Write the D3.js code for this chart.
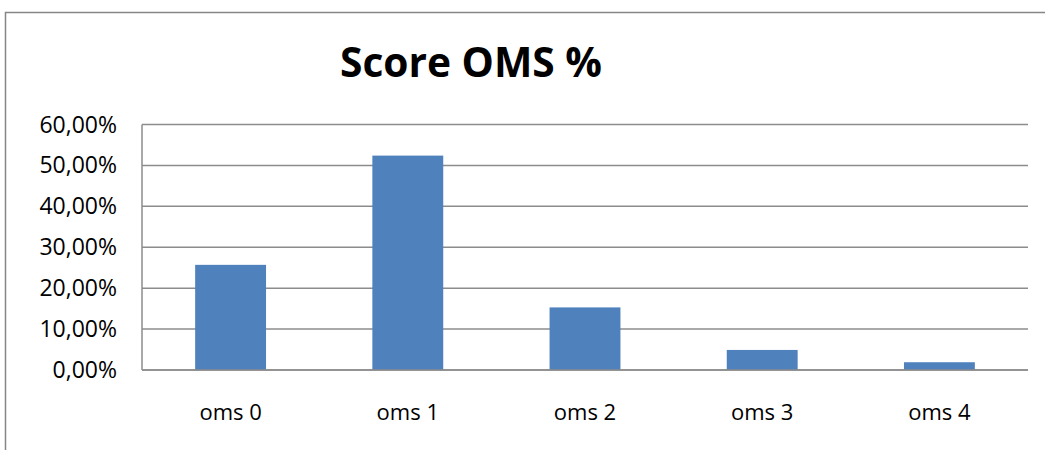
<!DOCTYPE html>
<html>
<head>
<meta charset="utf-8">
<script src="https://cdn.jsdelivr.net/npm/d3@7"></script>
<style>
  body { margin: 0; background: #fff; }
  text { font-family: "Open Sans", sans-serif; fill: #000; }
</style>
</head>
<body>
<div id="chart"></div>
<script>
// chart values
const categories = ["oms 0", "oms 1", "oms 2", "oms 3", "oms 4"];
const values = [0.257, 0.524, 0.153, 0.049, 0.019];
const yTicks = [0, 0.1, 0.2, 0.3, 0.4, 0.5, 0.6];
const title = "Score OMS %";

const width = 1045, height = 450;
const margin = {top: 124.5, right: 17, bottom: 80, left: 142};

let svg = d3.select("#chart").append("svg")
    .attr("width", width)
    .attr("height", height);

// outer frame of the chart area
svg.append("rect")
    .attr("x", 5.5).attr("y", 12.5)
    .attr("width", width + 20).attr("height", height + 20)
    .attr("fill", "none")
    .attr("stroke", "#868686")
    .attr("stroke-width", 1.5);

svg.append("text")
    .attr("x", 471).attr("y", 77)
    .attr("text-anchor", "middle")
    .attr("font-size", 42)
    .attr("font-weight", "bold")
    .attr("textLength", 262)
    .attr("lengthAdjust", "spacingAndGlyphs")
    .text(title);

let x = d3.scaleBand()
    .domain(categories)
    .range([margin.left, width - margin.right])
    .paddingInner(0.6)
    .paddingOuter(0.3);

let y = d3.scaleLinear()
    .domain([0, 0.6])
    .range([370, margin.top]);

let fmt = d => d3.format(".2f")(d * 100).replace(".", ",") + "%";

// gridlines
svg.append("g")
    .selectAll("line")
    .data(yTicks)
    .enter()
    .append("line")
    .attr("x1", margin.left)
    .attr("x2", width - margin.right)
    .attr("y1", d => y(d))
    .attr("y2", d => y(d))
    .attr("stroke", "#8c8c8c")
    .attr("stroke-width", 1.5);

// y axis line
svg.append("line")
    .attr("x1", margin.left).attr("x2", margin.left)
    .attr("y1", y(0.6)).attr("y2", y(0))
    .attr("stroke", "#8c8c8c")
    .attr("stroke-width", 1.5);

svg.append("g")
    .selectAll("text")
    .data(yTicks)
    .enter()
    .append("text")
    .attr("x", 117)
    .attr("y", d => y(d))
    .attr("dy", "0.35em")
    .attr("text-anchor", "end")
    .attr("font-size", 23)
    .text(fmt);

svg.append("g")
    .selectAll("rect")
    .data(values)
    .enter()
    .append("rect")
    .attr("x", (d, i) => x(categories[i]))
    .attr("width", x.bandwidth())
    .attr("y", d => y(d))
    .attr("height", d => y(0) - y(d))
    .attr("fill", "#4f81bd");

// baseline drawn over bars
svg.append("line")
    .attr("x1", margin.left).attr("x2", width - margin.right)
    .attr("y1", y(0)).attr("y2", y(0))
    .attr("stroke", "#8c8c8c")
    .attr("stroke-width", 1.5);

svg.append("g")
    .selectAll("text")
    .data(categories)
    .enter()
    .append("text")
    .attr("x", d => x(d) + x.bandwidth() / 2)
    .attr("y", 420)
    .attr("text-anchor", "middle")
    .attr("font-size", 22)
    .text(d => d);
</script>
</body>
</html>
